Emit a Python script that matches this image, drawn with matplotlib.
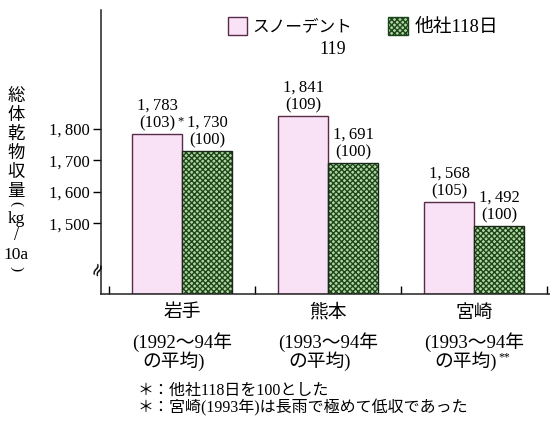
import matplotlib
matplotlib.use("Agg")
import matplotlib.pyplot as plt
from matplotlib.patches import Rectangle
import numpy as np

categories = ["岩手", "熊本", "宮崎"]
period_line1 = ["(1992〜94年", "(1993〜94年", "(1993〜94年"]
period_line2 = ["の平均)", "の平均)", "の平均)"]
period_marks = ["", "", "**"]
snowdent = [1783, 1841, 1568]
other118 = [1730, 1691, 1492]
snow_index = [103, 109, 105]
other_index = [100, 100, 100]
yticks = [1500, 1600, 1700, 1800]
series_names = ["スノーデント", "119", "他社118日"]
footnotes = ["＊：他社118日を100とした", "＊：宮崎(1993年)は長雨で極めて低収であった"]
ylabel_chars = ["総", "体", "乾", "物", "収", "量"]

FONT = ["Liberation Serif", "Noto Sans CJK JP", "DejaVu Sans"]
plt.rcParams["font.family"] = FONT

W, H = 550, 428
fig = plt.figure(figsize=(5.5, 4.28), dpi=100)
def fx(px): return px / W
def fy(py): return 1 - py / H

ax = fig.add_axes([fx(101), fy(294), fx(550) - fx(101), fy(10) - fy(294)])
ymin, ymax = 1275, 2178
ax.set_ylim(ymin, ymax)
ax.set_xlim(-0.555, 2.52)

x = np.arange(len(categories))
bw = 0.342
pink = "#f9e2f5"
pink_edge = "#5a2a4a"
green = "#b3d49f"
green_hatch = "#1c461c"
ax.bar(x - bw / 2, np.array(snowdent) - ymin, bw, bottom=ymin, color=pink,
       edgecolor=pink_edge, linewidth=1.0, zorder=2)
ax.bar(x + bw / 2, np.array(other118) - ymin, bw, bottom=ymin, color=green,
       edgecolor=green_hatch, hatch="xxxxxx", linewidth=0, zorder=2)
ax.bar(x + bw / 2, np.array(other118) - ymin, bw, bottom=ymin, fill=False,
       edgecolor="#1a2a1a", linewidth=1.0, zorder=3)

def fmt(v):
    return f"{v:,}".replace(",", ",\u2009")

lab_kw = dict(ha="center", va="bottom", fontsize=12, linespacing=1.12,
              textcoords="offset points", xytext=(0, 2), family=FONT)
for i in range(len(categories)):
    ax.annotate(f"{fmt(snowdent[i])}\n({snow_index[i]})", (x[i] - bw / 2, snowdent[i]), **lab_kw)
    ax.annotate(f"{fmt(other118[i])}\n({other_index[i]})", (x[i] + bw / 2, other118[i]), **lab_kw)
ax.annotate("*", (x[0] - bw / 2, snowdent[0]), textcoords="offset points",
            xytext=(17, 5), fontsize=9, ha="center", va="bottom")

ax.set_yticks(yticks)
ax.set_yticklabels([fmt(v) for v in yticks], fontsize=12)
ax.tick_params(axis="y", direction="out", length=6, width=1, pad=2)
ax.set_xticks(np.arange(-0.5, len(categories)))
ax.set_xticklabels([])
ax.tick_params(axis="x", direction="in", length=6, width=1)
for s in ["top", "right"]:
    ax.spines[s].set_visible(False)
for s in ["left", "bottom"]:
    ax.spines[s].set_linewidth(1.1)
    ax.spines[s].set_color("#222222")

# break mark on y axis
fig.text(fx(98), fy(269), "≈", rotation=65, fontsize=13, ha="center", va="center",
         family=["DejaVu Sans"])

# category labels
fig.canvas.draw()
renderer = fig.canvas.get_renderer()
for i, c in enumerate(categories):
    xc = ax.transData.transform((x[i], 0))[0]
    fig.text(xc / W, fy(313), c, ha="center", va="center", fontsize=13.5)
    t1 = fig.text(xc / W, fy(342), period_line1[i], ha="center", va="center", fontsize=13.5)
    bb1 = t1.get_window_extent(renderer)
    t2 = fig.text((bb1.x0 + 10) / W, fy(361), period_line2[i], ha="left", va="center", fontsize=13.5)
    if period_marks[i]:
        bb2 = t2.get_window_extent(renderer)
        fig.text((bb2.x1 + 2) / W, fy(357), period_marks[i], ha="left", va="center", fontsize=8.5)

# footnotes
fig.text(fx(138), fy(391), footnotes[0], ha="left", va="center", fontsize=11.5)
fig.text(fx(138), fy(408), footnotes[1], ha="left", va="center", fontsize=11.5)

# y label, vertical stacked
ys = [97, 116, 135, 154, 173, 192]
for ch, yy in zip(ylabel_chars, ys):
    fig.text(fx(16), fy(yy), ch, ha="center", va="center", fontsize=12.5)
fig.text(fx(16), fy(204), "(", rotation=-90, ha="center", va="center", fontsize=11)
fig.text(fx(16), fy(219), "kg", ha="center", va="center", fontsize=12.5)
fig.text(fx(16), fy(236), "/", ha="center", va="center", fontsize=13)
fig.text(fx(16), fy(255), "10a", ha="center", va="center", fontsize=12.5)
fig.text(fx(16), fy(269), ")", rotation=-90, ha="center", va="center", fontsize=11)

# legend (manual)
fig.patches.append(Rectangle((fx(228), fy(35)), fx(19), fy(17) - fy(35), transform=fig.transFigure,
                             facecolor=pink, edgecolor=pink_edge, linewidth=1.0))
fig.patches.append(Rectangle((fx(388), fy(35)), fx(20), fy(17) - fy(35), transform=fig.transFigure,
                             facecolor=green, edgecolor=green_hatch, hatch="xxxxxx", linewidth=1.0))
fig.text(fx(252), fy(27), series_names[0], ha="left", va="center", fontsize=12)
fig.text(fx(333), fy(50), series_names[1], ha="center", va="center", fontsize=13)
fig.text(fx(415), fy(27), series_names[2], ha="left", va="center", fontsize=13.5)

fig.savefig("out.png", dpi=100)
